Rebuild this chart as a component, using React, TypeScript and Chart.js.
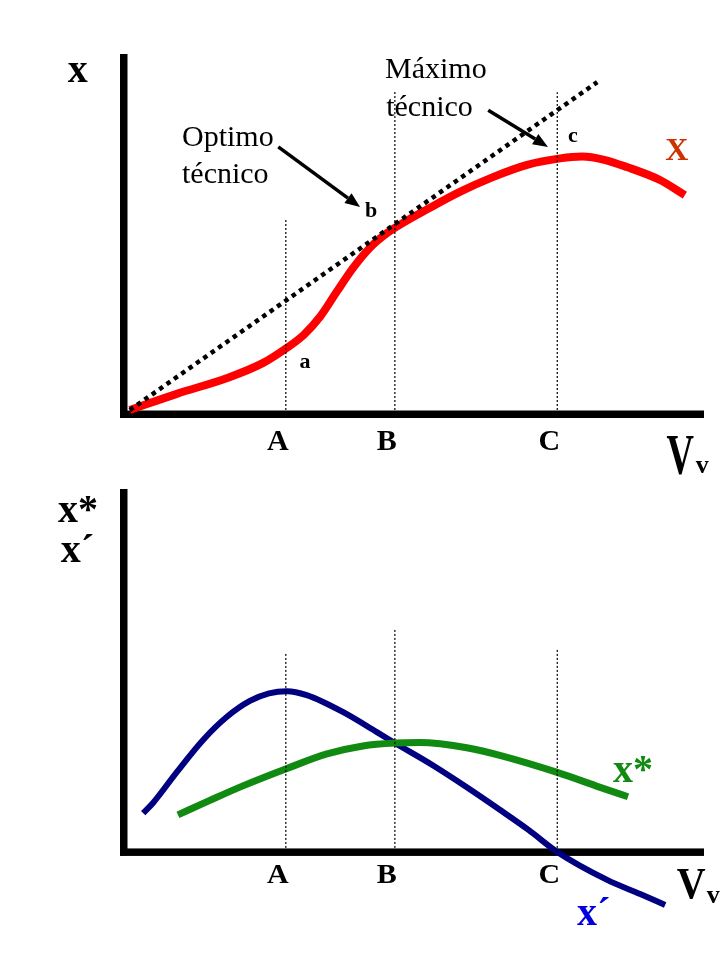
import React, { useEffect, useRef } from 'react';
import { Chart, registerables } from 'chart.js';

Chart.register(...registerables);

const SERIF = '"Liberation Serif", "Times New Roman", "DejaVu Serif", serif';

// Shared points on the V_v axis
const pointNames = ['A', 'B', 'C'];
const pointX = [27.9, 46.7, 74.7];

// Top panel: total product curve X
const totalX = [1.0, 9.1, 17.8, 24.0, 28.1, 31.0, 33.8, 36.7, 39.5, 42.4, 45.3, 47.6, 52.2, 57.9, 63.6, 69.5, 75.2, 79.0, 82.8, 86.7, 92.4, 96.7];
const totalY = [1.1, 5.6, 10.0, 14.2, 18.4, 22.0, 27.0, 34.0, 40.6, 46.2, 50.2, 52.6, 56.8, 61.7, 65.8, 69.2, 71.0, 71.5, 70.6, 68.6, 65.0, 60.8];
// Ray from origin (tangent at b)
const rayX = [1.0, 81.6];
const rayY = [1.1, 92.2];
// Heights of the vertical guides at A, B, C
const topGuideTop = [54.4, 90.0, 89.4];

// Bottom panel: marginal x´ and average x*
const marginalX = [3.3, 5.0, 9.1, 13.6, 17.8, 21.7, 25.0, 28.1, 31.5, 37.8, 43.6, 46.7, 53.3, 59.1, 64.8, 69.8, 74.7, 83.3, 89.0, 93.3];
const marginalY = [10.7, 13.5, 22.0, 30.8, 37.3, 41.6, 43.7, 44.3, 43.2, 38.5, 33.0, 30.0, 23.8, 17.8, 11.6, 6.0, 0, -7.7, -11.6, -14.6];
const averageX = [9.3, 14.8, 20.5, 28.1, 35.0, 41.2, 46.7, 51.0, 54.5, 59.1, 64.8, 74.7, 82.1, 86.9];
const averageY = [10.2, 14.2, 18.2, 23.0, 27.0, 29.2, 30.0, 30.15, 29.8, 28.7, 26.6, 21.9, 17.8, 15.2];
const bottomGuideTop = [55.1, 61.2, 55.9];

type TextItem = {
  text: string; x: number; y: number; size: number; bold?: boolean;
  color?: string; align?: CanvasTextAlign; sx?: number; sy?: number;
};
type ArrowItem = { x1: number; y1: number; x2: number; y2: number };

const pts = (xs: number[], ys: number[]) => xs.map((x, i) => ({ x, y: ys[i] }));

function guideDatasets(tops: number[]) {
  return pointX.map((x, i) => ({
    label: 'guide ' + pointNames[i],
    data: [{ x, y: 0 }, { x, y: tops[i] }],
    borderColor: '#000',
    borderWidth: 1.2,
    borderDash: [2, 2],
    pointRadius: 0,
    tension: 0,
  }));
}

function decorPlugin(opts: {
  texts: TextItem[]; arrows: ArrowItem[]; labelBaseline: number; labelSy: number;
}) {
  return {
    id: 'decor',
    beforeDatasetsDraw(chart: any) {
      const { ctx, chartArea, scales } = chart;
      const y0 = scales.y.getPixelForValue(0);
      ctx.save();
      ctx.fillStyle = '#000';
      ctx.fillRect(chartArea.left - 4, chartArea.top, 7.5, y0 - chartArea.top + 3.5);
      ctx.fillRect(chartArea.left - 4, y0 - 3.5, chartArea.right - chartArea.left + 4, 7.5);
      ctx.restore();
    },
    afterDatasetsDraw(chart: any) {
      const { ctx, scales } = chart;
      const px = (v: number) => scales.x.getPixelForValue(v);
      const py = (v: number) => scales.y.getPixelForValue(v);
      const draw = (t: TextItem) => {
        ctx.save();
        ctx.font = `${t.bold ? 'bold ' : ''}${t.size}px ${SERIF}`;
        ctx.fillStyle = t.color || '#000';
        ctx.textAlign = t.align || 'left';
        ctx.textBaseline = 'alphabetic';
        ctx.translate(px(t.x), py(t.y));
        ctx.scale(t.sx || 1, t.sy || 1);
        ctx.fillText(t.text, 0, 0);
        ctx.restore();
      };
      // category labels A, B, C
      pointNames.forEach((name, i) => {
        ctx.save();
        ctx.font = `bold 30px ${SERIF}`;
        ctx.fillStyle = '#000';
        ctx.textAlign = 'center';
        ctx.textBaseline = 'alphabetic';
        ctx.translate(px(pointX[i]) - 8, py(opts.labelBaseline));
        ctx.scale(1, opts.labelSy);
        ctx.fillText(name, 0, 0);
        ctx.restore();
      });
      opts.texts.forEach(draw);
      opts.arrows.forEach((a) => {
        const x1 = px(a.x1), y1 = py(a.y1), x2 = px(a.x2), y2 = py(a.y2);
        const ang = Math.atan2(y2 - y1, x2 - x1);
        const hl = 15, hw = 6;
        const bx = x2 - hl * Math.cos(ang), by = y2 - hl * Math.sin(ang);
        ctx.save();
        ctx.strokeStyle = '#000';
        ctx.fillStyle = '#000';
        ctx.lineWidth = 3.5;
        ctx.beginPath();
        ctx.moveTo(x1, y1);
        ctx.lineTo(bx, by);
        ctx.stroke();
        ctx.beginPath();
        ctx.moveTo(x2, y2);
        ctx.lineTo(bx + hw * Math.sin(ang), by - hw * Math.cos(ang));
        ctx.lineTo(bx - hw * Math.sin(ang), by + hw * Math.cos(ang));
        ctx.closePath();
        ctx.fill();
        ctx.restore();
      });
    },
  };
}

const topTexts: TextItem[] = [
  { text: 'x', x: -9.7, y: 92.2, size: 40, bold: true },
  { text: 'X', x: 93.3, y: 70.6, size: 32, bold: true, color: '#cc3300' },
  { text: 'Optimo', x: 10.0, y: 74.4, size: 30 },
  { text: 'técnico', x: 10.0, y: 64.2, size: 30 },
  { text: 'Máximo', x: 45.0, y: 93.3, size: 30 },
  { text: 'técnico', x: 45.2, y: 82.8, size: 30 },
  { text: 'a', x: 31.2, y: 12.8, size: 22, bold: true, align: 'center' },
  { text: 'b', x: 42.6, y: 54.7, size: 22, bold: true, align: 'center' },
  { text: 'c', x: 77.4, y: 75.6, size: 22, bold: true, align: 'center' },
  { text: 'V', x: 95.9, y: -16.7, size: 38, bold: true, align: 'center', sy: 1.5 },
  { text: 'v', x: 99.7, y: -16.4, size: 26, bold: true, align: 'center' },
];
const topArrows: ArrowItem[] = [
  { x1: 26.6, y1: 74.2, x2: 40.7, y2: 57.5 },
  { x1: 62.8, y1: 84.4, x2: 73.1, y2: 74.2 },
];

const bottomTexts: TextItem[] = [
  { text: 'x*', x: -11.4, y: 90.9, size: 40, bold: true },
  { text: 'x´', x: -10.9, y: 79.9, size: 40, bold: true },
  { text: 'x*', x: 84.3, y: 19.3, size: 40, bold: true, color: '#118a11' },
  { text: 'x´', x: 78.1, y: -20.1, size: 40, bold: true, color: '#0000dd' },
  { text: 'V', x: 97.8, y: -12.7, size: 40, bold: true, align: 'center', sy: 1.1 },
  { text: 'v', x: 101.6, y: -14.0, size: 26, bold: true, align: 'center' },
];

function useChart(ref: React.RefObject<HTMLCanvasElement>, build: () => any) {
  useEffect(() => {
    if (!ref.current) return;
    const chart = new Chart(ref.current, build());
    return () => chart.destroy();
  }, []);
}

const baseOptions = (padding: any, yMin: number) => ({
  responsive: false,
  animation: false as const,
  layout: { padding },
  plugins: { legend: { display: false }, tooltip: { enabled: false }, title: { display: false } },
  scales: {
    x: { type: 'linear' as const, min: 0, max: 100, display: false },
    y: { type: 'linear' as const, min: yMin, max: 100, display: false },
  },
  elements: { point: { radius: 0 } },
});

export default function App() {
  const topRef = useRef<HTMLCanvasElement>(null);
  const botRef = useRef<HTMLCanvasElement>(null);

  useChart(topRef, () => ({
    type: 'line',
    data: {
      datasets: [
        ...guideDatasets(topGuideTop),
        {
          label: 'tangent',
          data: pts(rayX, rayY),
          borderColor: '#000',
          borderWidth: 4.5,
          borderDash: [4.5, 4.5],
          pointRadius: 0,
          tension: 0,
        },
        {
          label: 'X',
          data: pts(totalX, totalY),
          borderColor: '#ff0000',
          borderWidth: 8,
          pointRadius: 0,
          cubicInterpolationMode: 'monotone',
          borderCapStyle: 'butt',
        },
      ],
    },
    options: baseOptions({ left: 124, right: 16, top: 54, bottom: 66 }, 0),
    plugins: [decorPlugin({ texts: topTexts, arrows: topArrows, labelBaseline: -10.0, labelSy: 1 })],
  }));

  useChart(botRef, () => ({
    type: 'line',
    data: {
      datasets: [
        ...guideDatasets(bottomGuideTop),
        {
          label: 'x*',
          data: pts(averageX, averageY),
          borderColor: '#118a11',
          borderWidth: 7,
          pointRadius: 0,
          cubicInterpolationMode: 'monotone',
        },
        {
          label: "x´",
          data: pts(marginalX, marginalY),
          borderColor: '#000080',
          borderWidth: 6,
          pointRadius: 0,
          cubicInterpolationMode: 'monotone',
        },
      ],
    },
    options: baseOptions({ left: 124, right: 16, top: 9, bottom: 50 }, -16),
    plugins: [decorPlugin({ texts: bottomTexts, arrows: [], labelBaseline: -8.5, labelSy: 0.9 })],
  }));

  return (
    <div style={{ position: 'absolute', left: 0, top: 0, width: 720, height: 960, background: '#fff' }}>
      <canvas ref={topRef} width={720} height={480} style={{ position: 'absolute', left: 0, top: 0, width: 720, height: 480 }} />
      <canvas ref={botRef} width={720} height={480} style={{ position: 'absolute', left: 0, top: 480, width: 720, height: 480 }} />
    </div>
  );
}
